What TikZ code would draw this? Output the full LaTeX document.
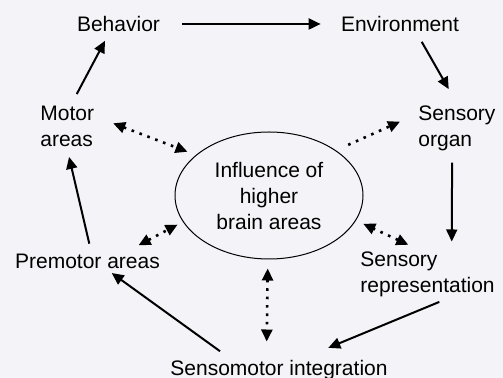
\documentclass[tikz,border=0pt]{standalone}
\usepackage{fontspec}
\setmainfont{Liberation Sans}
\usetikzlibrary{arrows.meta,shapes.geometric}
\definecolor{bgpaper}{RGB}{244,244,248}
\tikzset{lbl/.style={inner sep=0pt,font=\fontsize{10.5}{13}\selectfont},
  arrow/.style={-{Triangle[length=6pt,width=5.5pt]},line width=1pt},
  dotarrow/.style={{Triangle[length=6pt,width=5.5pt]}-{Triangle[length=6pt,width=5.5pt]},
    line width=1.3pt,dash pattern=on 1.3pt off 2.9pt}}

\begin{document}
\begin{tikzpicture}[x=.5pt,y=.5pt]
  \fill[bgpaper] (0,0) rectangle (503,-378);
  \path[use as bounding box] (0,0) rectangle (503,-378);
  \node[lbl] (beh) at (118.5,-24) {Behavior};
  \node[lbl] (env) at (400,-24) {Environment};
  \node[lbl,align=left,anchor=west] (mot) at (40,-126.5) {Motor\\areas};
  \node[lbl,align=left,anchor=west] (sorg) at (418,-128.7) {Sensory\\organ};
  \node[lbl,align=center,ellipse,draw,line width=.5pt,minimum width=94pt,minimum height=63.5pt]
    (infl) at (269,-195.5) {Influence of\\higher\\brain areas};
  \node[lbl] (pre) at (87.5,-261.7) {Premotor areas};
  \node[lbl,align=left,anchor=west] (srep) at (360,-274.7) {Sensory\\representation};
  \node[lbl] (smi) at (279,-369.7) {Sensomotor integration};
  % loop
  \draw[arrow] ([xshift=11pt]beh.east) -- ([xshift=-10pt]env.west);
  \draw[arrow] ([shift={(21.7,-9.7)}]env.south) -- ([shift={(-8.2,16.7)}]sorg.north);
  \draw[arrow] ([shift={(-4.8,-11)}]sorg.south) -- ([shift={(24.2,10.3)}]srep.north);
  \draw[arrow] ([shift={(11.8,-4.3)}]srep.south) -- ([shift={(49.3,11.7)}]smi.north);
  \draw[arrow] ([shift={(-59,8.3)}]smi.north) -- ([shift={(24.2,-3.6)}]pre.south);
  \draw[arrow] ([shift={(1.8,10.3)}]pre.north) -- ([shift={(1.8,-9.7)}]mot.south);
  \draw[arrow] ([shift={(9.5,11.7)}]mot.north) -- ([shift={(-13.5,-8.7)}]beh.south);
  % higher areas
  \draw[dotarrow,shorten >=4.5pt] ([shift={(18.7,3.2)}]mot.east) -- (infl.151);
  \draw[dotarrow,-{Triangle[length=6pt,width=5.5pt]},shorten <=6.7pt] (infl.34) -- ([shift={(-18,7)}]sorg.west);
  \draw[dotarrow,shorten >=3pt] ([shift={(-21.7,8.7)}]pre.north east) -- (infl.197);
  \draw[dotarrow,shorten >=4pt] ([shift={(48.3,7)}]srep.north west) -- (infl.-16);
  \draw[dotarrow] ([shift={(-1.3,-9)}]infl.south) -- ([shift={(-12.3,18)}]smi.north);
\end{tikzpicture}
\end{document}
